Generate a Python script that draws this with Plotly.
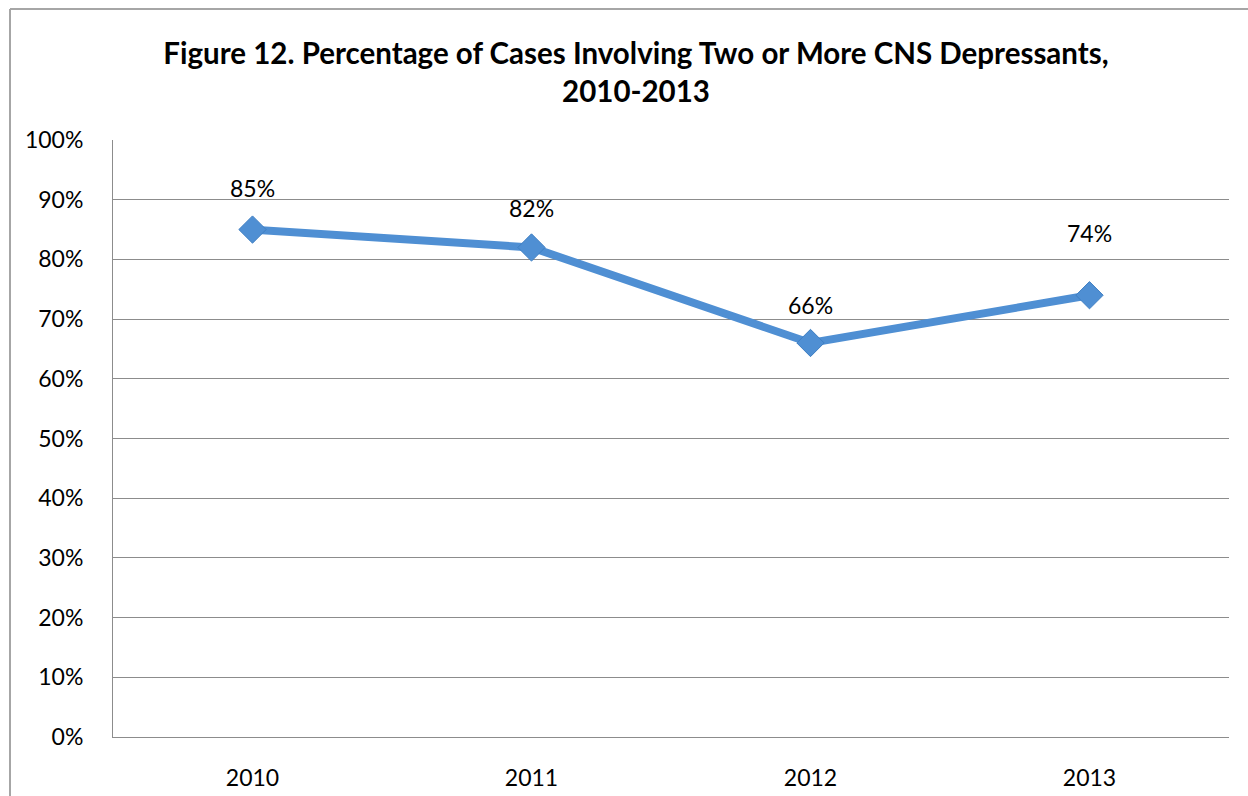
import plotly.graph_objects as go

years = ["2010", "2011", "2012", "2013"]
values = [85, 82, 66, 74]
labels = ["85%", "82%", "66%", "74%"]
label_shift = [42, 39, 38, 62]
y_ticks = list(range(0, 101, 10))
y_tick_text = [f"{v}%" for v in y_ticks]

FONT = "Lato, Carlito, Calibri, sans-serif"
LINE = "#4F8FD3"

fig = go.Figure()
fig.add_trace(go.Scatter(
    x=years, y=values, mode="lines+markers",
    line=dict(color=LINE, width=8),
    marker=dict(symbol="diamond", size=21, color=LINE, line=dict(color="#3F7FC3", width=1)),
    hoverinfo="skip", showlegend=False,
))

for i, (v, lab, s) in enumerate(zip(values, labels, label_shift)):
    fig.add_annotation(x=i, y=v, xref="x", yref="y", text=lab, showarrow=False, yshift=s,
                       font=dict(family=FONT, size=23, color="black"))

W, H = 1248, 796
fig.update_layout(
    width=W, height=H,
    margin=dict(l=113, r=19, t=140, b=59, autoexpand=False),
    paper_bgcolor="white", plot_bgcolor="white",
    title=dict(text="Figure 12. Percentage of Cases Involving Two or More CNS Depressants,<br>2010-2013",
               x=636 / W, xanchor="center", y=1 - 64 / H, yanchor="middle",
               font=dict(family=FONT, size=29.5, color="black", weight="bold")),
    font=dict(family=FONT, size=22, color="black"),
    xaxis=dict(type="category", range=[-0.5, 3.5], showgrid=False, automargin=False,
               showline=True, linecolor="#8c8c8c", linewidth=1,
               ticks="", tickfont=dict(size=23), ticklabelstandoff=20, fixedrange=True),
    yaxis=dict(range=[0, 100], tickvals=y_ticks, ticktext=y_tick_text, automargin=False,
               showgrid=True, gridcolor="#8c8c8c", gridwidth=1,
               showline=True, linecolor="#8c8c8c", linewidth=1,
               ticks="", tickfont=dict(size=23), ticklabelstandoff=24,
               zeroline=False, fixedrange=True),
    shapes=[
        dict(type="line", xref="paper", yref="paper",
             x0=(10 - 113) / (W - 113 - 19), x1=(W + 5 - 113) / (W - 113 - 19),
             y0=(H - 59 - 9) / (H - 140 - 59), y1=(H - 59 - 9) / (H - 140 - 59),
             line=dict(color="#a6a6a6", width=2)),
        dict(type="line", xref="paper", yref="paper",
             x0=(10 - 113) / (W - 113 - 19), x1=(10 - 113) / (W - 113 - 19),
             y0=(H - 59 - 9) / (H - 140 - 59), y1=-(59 + 5) / (H - 140 - 59),
             line=dict(color="#a6a6a6", width=2)),
    ],
)

fig.write_html("out.html", config={"displayModeBar": False},
               post_script="document.body.style.margin='0';")
